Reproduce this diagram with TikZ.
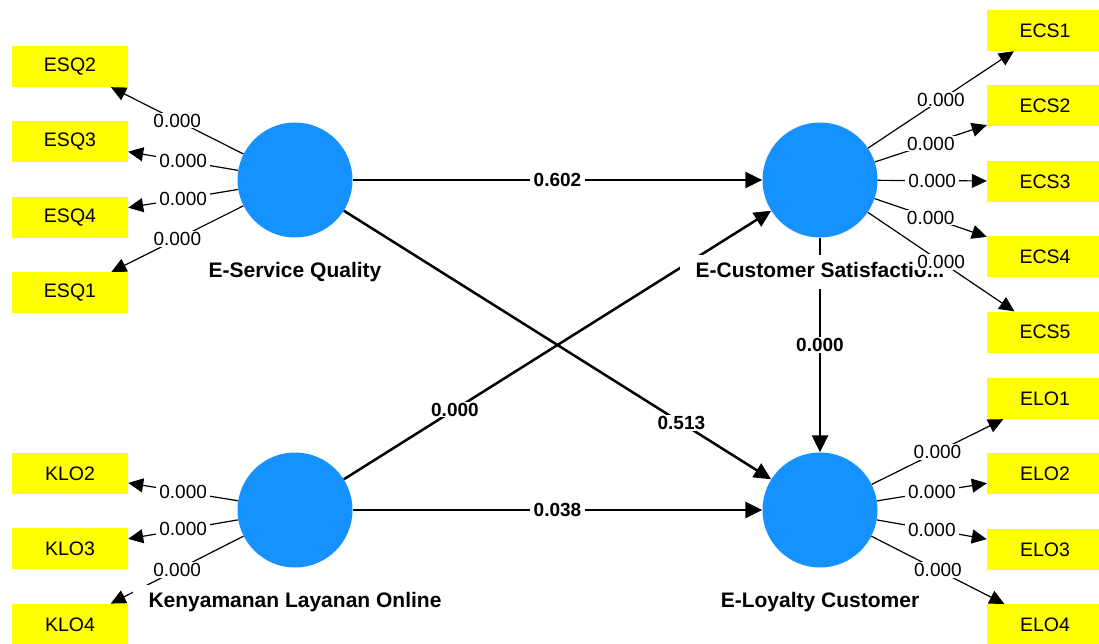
\documentclass[tikz,border=0pt]{standalone}
\usepackage{fontspec}
\setmainfont{Liberation Sans}
\usetikzlibrary{arrows.meta, positioning}
\definecolor{lvblue}{RGB}{21,146,255}
\definecolor{mvyellow}{RGB}{255,255,0}

\begin{document}
\begin{tikzpicture}[x=1pt, y=-1pt,
    latent/.style={circle, fill=lvblue, minimum size=115pt, inner sep=0pt},
    indicator/.style={rectangle, fill=mvyellow, minimum width=116pt, minimum height=41pt, inner sep=0pt, font=\fontsize{19.5}{21}\selectfont},
    lvname/.style={fill=white, inner xsep=16pt, inner ysep=7.5pt, text height=15pt, text depth=4pt, font=\fontsize{21}{23}\selectfont\bfseries},
    structural/.style={line width=2.5pt, -{Triangle[length=17pt, width=16pt]}},
    loading/.style={line width=1.2pt, -{Triangle[length=15pt, width=14pt]}},
    coef/.style={midway, fill=white, inner xsep=4pt, inner ysep=1pt, font=\fontsize{19}{21}\selectfont\bfseries},
    wgt/.style={midway, fill=white, inner xsep=3pt, inner ysep=1pt, font=\fontsize{19}{21}\selectfont}]
        \clip (0,0) rectangle (1099,644);

        % constructs
        \node[latent] (esq) at (295,180) {};
        \node[latent] (ecs) at (820,180) {};
        \node[latent] (klo) at (295,510) {};
        \node[latent] (elo) at (820,510) {};

        % indicators
        \node[indicator] (esq2) at (70,66.5) {ESQ2};
        \node[indicator, below = 34pt of esq2] (esq3) {ESQ3};
        \node[indicator, below = 34pt of esq3] (esq4) {ESQ4};
        \node[indicator, below = 34pt of esq4] (esq1) {ESQ1};

        \node[indicator] (klo2) at (70,473.5) {KLO2};
        \node[indicator, below = 34pt of klo2] (klo3) {KLO3};
        \node[indicator, below = 34pt of klo3] (klo4) {KLO4};

        \node[indicator] (ecs1) at (1045,30.5) {ECS1};
        \node[indicator, below = 34pt of ecs1] (ecs2) {ECS2};
        \node[indicator, below = 34pt of ecs2] (ecs3) {ECS3};
        \node[indicator, below = 34pt of ecs3] (ecs4) {ECS4};
        \node[indicator, below = 34pt of ecs4] (ecs5) {ECS5};

        \node[indicator] (elo1) at (1045,398.5) {ELO1};
        \node[indicator, below = 34pt of elo1] (elo2) {ELO2};
        \node[indicator, below = 34pt of elo2] (elo3) {ELO3};
        \node[indicator, below = 34pt of elo3] (elo4) {ELO4};

        % inner model
        \draw[structural] (esq) -- node[coef] {0.602} (ecs);
        \draw[structural] (esq) -- node[coef, pos=0.79] {0.513} (elo);
        \draw[structural] (klo) -- node[coef, pos=0.26] {0.000} (ecs);
        \draw[structural] (klo) -- node[coef] {0.038} (elo);
        \draw[structural] (ecs) -- node[coef] {0.000} (elo);

        \draw[loading] (klo) -- node[wgt] {0.000} (klo2);
        \draw[loading] (klo) -- node[wgt] {0.000} (klo3);
        \draw[loading] (klo) -- node[wgt] {0.000} (klo4);

        % construct names
        \node[lvname, below = 17pt of esq] (esqname) {E-Service Quality};
        \node[lvname, below = 17pt of ecs] (ecsname) {E-Customer Satisfactio...};
        \node[lvname, below = 17pt of klo] (kloname) {Kenyamanan Layanan Online};
        \node[lvname, below = 17pt of elo] (eloname) {E-Loyalty Customer};

        % outer model
        \draw[loading] (esq) -- node[wgt] {0.000} (esq2);
        \draw[loading] (esq) -- node[wgt] {0.000} (esq3);
        \draw[loading] (esq) -- node[wgt] {0.000} (esq4);
        \draw[loading] (esq) -- node[wgt] {0.000} (esq1);

        \draw[loading] (ecs) -- node[wgt] {0.000} (ecs1);
        \draw[loading] (ecs) -- node[wgt] {0.000} (ecs2);
        \draw[loading] (ecs) -- node[wgt] {0.000} (ecs3);
        \draw[loading] (ecs) -- node[wgt] {0.000} (ecs4);
        \draw[loading] (ecs) -- node[wgt] {0.000} (ecs5);

        \draw[loading] (elo) -- node[wgt] {0.000} (elo1);
        \draw[loading] (elo) -- node[wgt] {0.000} (elo2);
        \draw[loading] (elo) -- node[wgt] {0.000} (elo3);
        \draw[loading] (elo) -- node[wgt] {0.000} (elo4);
\end{tikzpicture}
\end{document}
